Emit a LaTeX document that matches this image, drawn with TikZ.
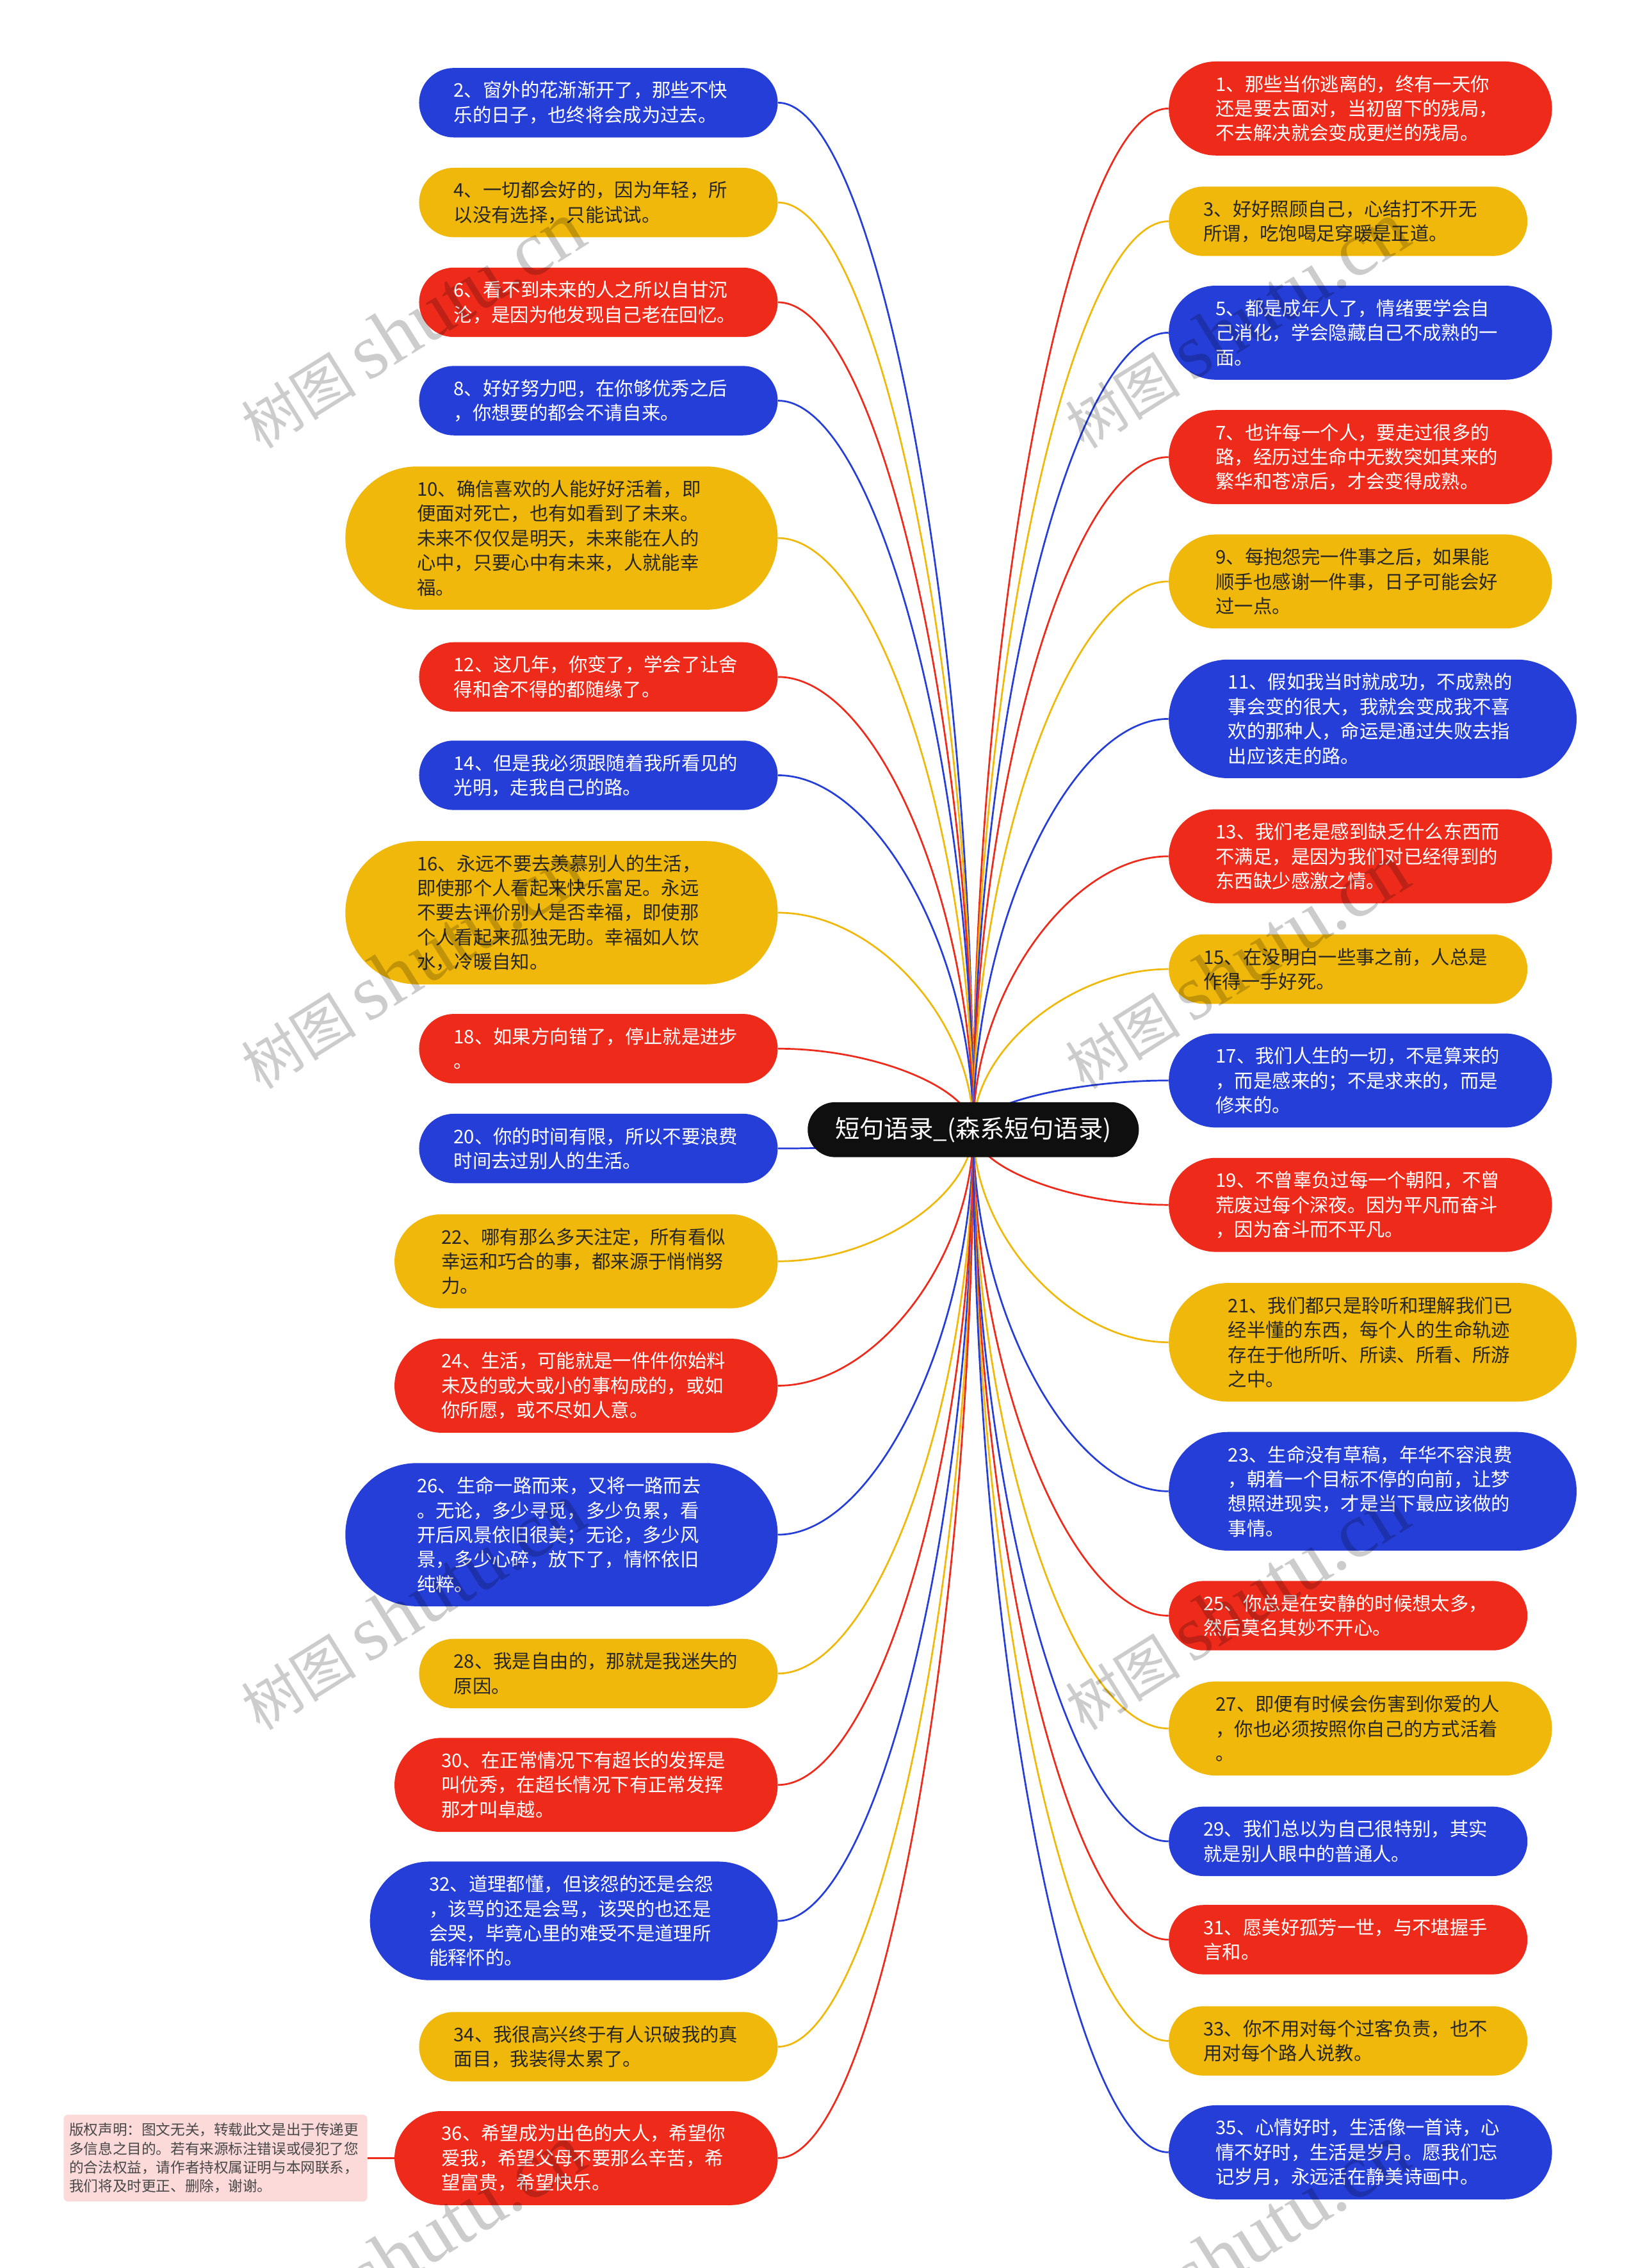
\documentclass[tikz,border=0pt]{standalone}
\usepackage{fontspec}
\setmainfont{Noto Sans CJK SC}
\newfontfamily\wmfont{Liberation Serif}
\usetikzlibrary{calc,backgrounds}
\definecolor{mblue}{HTML}{253ED8}
\definecolor{mred}{HTML}{EE2A1B}
\definecolor{myellow}{HTML}{F0B80A}
\definecolor{mdark}{HTML}{262626}
\definecolor{mnote}{HTML}{FDDADA}
\begin{document}
\begin{tikzpicture}[x=1pt,y=-1pt,
  leaf/.style={rectangle,inner ysep=0pt,text width=200pt,align=left,font=\fontsize{13}{17}\selectfont},
  link/.style={line width=1.2pt},
  root/.style={rectangle,rounded corners=19pt,fill=black!94,text=white,minimum height=38pt,inner xsep=19pt,inner ysep=0pt,font=\fontsize{17}{20}\selectfont},
  note/.style={rectangle,rounded corners=3pt,fill=mnote,text=mdark!85,text width=202pt,inner xsep=4pt,minimum height=60pt,align=left,font=\fontsize{10}{13}\selectfont},
  wm/.style={rotate=32,text=black,text opacity=.2}]
\useasboundingbox (0,0) rectangle (1134,1568);
\node[root] (root) at (673,781) {短句语录\_(森系短句语录)};
\foreach \i/\y/\h/\c/\tc/\t [evaluate=\h as \r using \h/2] in {
  2/71/48/mblue/white/{2、窗外的花渐渐开了，那些不快\\乐的日子，也终将会成为过去。},
  4/140/48/myellow/mdark/{4、一切都会好的，因为年轻，所\\以没有选择，只能试试。},
  6/209/48/mred/white/{6、看不到未来的人之所以自甘沉\\沦，是因为他发现自己老在回忆。},
  8/277/48/mblue/white/{8、好好努力吧，在你够优秀之后\\，你想要的都会不请自来。},
  10/372/99/myellow/mdark/{10、确信喜欢的人能好好活着，即\\便面对死亡，也有如看到了未来。\\未来不仅仅是明天，未来能在人的\\心中，只要心中有未来，人就能幸\\福。},
  12/468/48/mred/white/{12、这几年，你变了，学会了让舍\\得和舍不得的都随缘了。},
  14/536/48/mblue/white/{14、但是我必须跟随着我所看见的\\光明，走我自己的路。},
  16/631/99/myellow/mdark/{16、永远不要去羡慕别人的生活，\\即使那个人看起来快乐富足。永远\\不要去评价别人是否幸福，即使那\\个人看起来孤独无助。幸福如人饮\\水，冷暖自知。},
  18/725/48/mred/white/{18、如果方向错了，停止就是进步\\。},
  20/794/48/mblue/white/{20、你的时间有限，所以不要浪费\\时间去过别人的生活。},
  22/872/65/myellow/mdark/{22、哪有那么多天注定，所有看似\\幸运和巧合的事，都来源于悄悄努\\力。},
  24/958/65/mred/white/{24、生活，可能就是一件件你始料\\未及的或大或小的事构成的，或如\\你所愿，或不尽如人意。},
  26/1061/99/mblue/white/{26、生命一路而来，又将一路而去\\。无论，多少寻觅，多少负累，看\\开后风景依旧很美；无论，多少风\\景，多少心碎，放下了，情怀依旧\\纯粹。},
  28/1157/48/myellow/mdark/{28、我是自由的，那就是我迷失的\\原因。},
  30/1234/65/mred/white/{30、在正常情况下有超长的发挥是\\叫优秀，在超长情况下有正常发挥\\那才叫卓越。},
  32/1328/82/mblue/white/{32、道理都懂，但该怨的还是会怨\\，该骂的还是会骂，该哭的也还是\\会哭，毕竟心里的难受不是道理所\\能释怀的。},
  34/1415/48/myellow/mdark/{34、我很高兴终于有人识破我的真\\面目，我装得太累了。},
  36/1492/65/mred/white/{36、希望成为出色的大人，希望你\\爱我，希望父母不要那么辛苦，希\\望富贵，希望快乐。}}{
  \node[leaf,fill=\c,text=\tc,minimum height=\h pt,inner xsep=\r pt,rounded corners=\r pt,anchor=east] (n\i) at (538,\y) {\t};
  \coordinate (m\i) at ($(root.center)!.5!(n\i.east)$);
  \begin{pgfonlayer}{background}
    \draw[link,draw=\c] (root.center) .. controls (root.center |- m\i) and (m\i |- n\i.east) .. (n\i.east);
  \end{pgfonlayer}
}
\foreach \i/\y/\h/\c/\tc/\t [evaluate=\h as \r using \h/2] in {
  1/75/65/mred/white/{1、那些当你逃离的，终有一天你\\还是要去面对，当初留下的残局，\\不去解决就会变成更烂的残局。},
  3/153/48/myellow/mdark/{3、好好照顾自己，心结打不开无\\所谓，吃饱喝足穿暖是正道。},
  5/230/65/mblue/white/{5、都是成年人了，情绪要学会自\\己消化，学会隐藏自己不成熟的一\\面。},
  7/316/65/mred/white/{7、也许每一个人，要走过很多的\\路，经历过生命中无数突如其来的\\繁华和苍凉后，才会变得成熟。},
  9/402/65/myellow/mdark/{9、每抱怨完一件事之后，如果能\\顺手也感谢一件事，日子可能会好\\过一点。},
  11/497/82/mblue/white/{11、假如我当时就成功，不成熟的\\事会变的很大，我就会变成我不喜\\欢的那种人，命运是通过失败去指\\出应该走的路。},
  13/592/65/mred/white/{13、我们老是感到缺乏什么东西而\\不满足，是因为我们对已经得到的\\东西缺少感激之情。},
  15/670/48/myellow/mdark/{15、在没明白一些事之前，人总是\\作得一手好死。},
  17/747/65/mblue/white/{17、我们人生的一切，不是算来的\\，而是感来的；不是求来的，而是\\修来的。},
  19/833/65/mred/white/{19、不曾辜负过每一个朝阳，不曾\\荒废过每个深夜。因为平凡而奋斗\\，因为奋斗而不平凡。},
  21/928/82/myellow/mdark/{21、我们都只是聆听和理解我们已\\经半懂的东西，每个人的生命轨迹\\存在于他所听、所读、所看、所游\\之中。},
  23/1031/82/mblue/white/{23、生命没有草稿，年华不容浪费\\，朝着一个目标不停的向前，让梦\\想照进现实，才是当下最应该做的\\事情。},
  25/1117/48/mred/white/{25、你总是在安静的时候想太多，\\然后莫名其妙不开心。},
  27/1195/65/myellow/mdark/{27、即便有时候会伤害到你爱的人\\，你也必须按照你自己的方式活着\\。},
  29/1273/48/mblue/white/{29、我们总以为自己很特别，其实\\就是别人眼中的普通人。},
  31/1341/48/mred/white/{31、愿美好孤芳一世，与不堪握手\\言和。},
  33/1411/48/myellow/mdark/{33、你不用对每个过客负责，也不\\用对每个路人说教。},
  35/1488/65/mblue/white/{35、心情好时，生活像一首诗，心\\情不好时，生活是岁月。愿我们忘\\记岁月，永远活在静美诗画中。}}{
  \node[leaf,fill=\c,text=\tc,minimum height=\h pt,inner xsep=\r pt,rounded corners=\r pt,anchor=west] (n\i) at (808,\y) {\t};
  \coordinate (m\i) at ($(root.center)!.5!(n\i.west)$);
  \begin{pgfonlayer}{background}
    \draw[link,draw=\c] (root.center) .. controls (root.center |- m\i) and (m\i |- n\i.west) .. (n\i.west);
  \end{pgfonlayer}
}
\node[note] (cp) at (149,1492) {版权声明：图文无关，转载此文是出于传递更\\多信息之目的。若有来源标注错误或侵犯了您\\的合法权益，请作者持权属证明与本网联系，\\我们将及时更正、删除，谢谢。};
\draw[link,draw=mred] (cp.east) -- (n36.west);
\foreach \wx/\wy [count=\k] in {285/225,855/225,285/668,855/668,285/1111,855/1111,285/1554,855/1554}
  \node[wm] (w\k) at (\wx,\wy) {\fontsize{40}{40}\selectfont 树图\hspace{8pt}{\wmfont\fontsize{54}{54}\selectfont shutu.cn}};
\end{tikzpicture}
\end{document}
